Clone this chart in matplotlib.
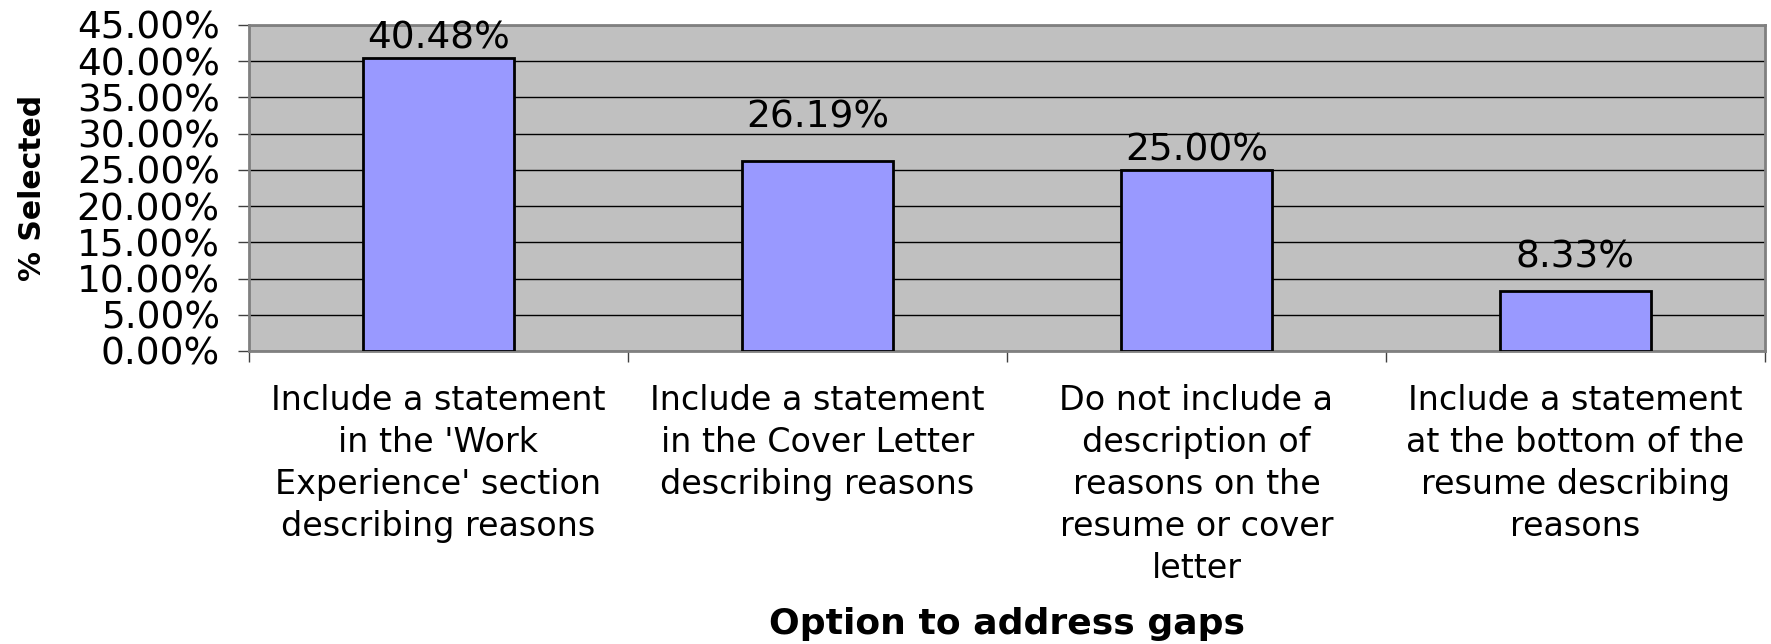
import matplotlib
matplotlib.use('Agg')
import matplotlib.pyplot as plt
from matplotlib.ticker import PercentFormatter

plt.rcParams['font.family'] = ['DejaVu Sans']

# данные
categories = [
    "Include a statement\nin the 'Work\nExperience' section\ndescribing reasons",
    "Include a statement\nin the Cover Letter\ndescribing reasons",
    "Do not include a\ndescription of\nreasons on the\nresume or cover\nletter",
    "Include a statement\nat the bottom of the\nresume describing\nreasons",
]
selected = [40.48, 26.19, 25.00, 8.33]
y_ticks = [0, 5, 10, 15, 20, 25, 30, 35, 40, 45]

# отступ подписи над столбцом (pt), как в оригинале
label_gap = [7, 24, 7, 17]

fig = plt.figure(figsize=(17.71, 6.44), dpi=100)
ax = fig.add_axes([0.1406, 0.455, 0.8560, 0.5062])
ax.set_facecolor('#C0C0C0')

x = list(range(len(categories)))
bars = ax.bar(x, selected, width=0.4, color='#9999FF', edgecolor='black',
              linewidth=2, zorder=3)

ax.set_xlim(-0.5, len(categories) - 0.5)
ax.set_ylim(0, 45)
ax.set_yticks(y_ticks)
ax.yaxis.set_major_formatter(PercentFormatter(decimals=2))
ax.grid(axis='y', color='black', linewidth=1, zorder=1)
ax.set_axisbelow(True)

# деления по границам категорий, подписи по центрам
ax.set_xticks([i - 0.5 for i in range(len(categories) + 1)])
ax.set_xticklabels([])
ax.set_xticks(x, minor=True)
ax.set_xticklabels(categories, minor=True, fontsize=24, linespacing=1.35)
ax.tick_params(axis='x', which='minor', length=0, pad=23.5)
ax.tick_params(axis='x', which='major', length=8, color='#404040', width=1)
ax.tick_params(axis='y', labelsize=27, length=8, pad=13, color='#404040', width=1)

for s in ax.spines.values():
    s.set_color('#808080')
    s.set_linewidth(2)

for b, v, g in zip(bars, selected, label_gap):
    ax.annotate(f'{v:.2f}%', (b.get_x() + b.get_width() / 2, v),
                xytext=(0, g), textcoords='offset points',
                ha='center', va='baseline', fontsize=27, zorder=4)

ax.set_ylabel('% Selected', fontsize=21.5, fontweight='bold')
ax.yaxis.set_label_coords(-0.133, 0.5)
ax.set_xlabel('Option to address gaps', fontsize=26, fontweight='bold')
ax.xaxis.set_label_coords(0.5, -0.785)

fig.savefig('out.png', dpi=100)
